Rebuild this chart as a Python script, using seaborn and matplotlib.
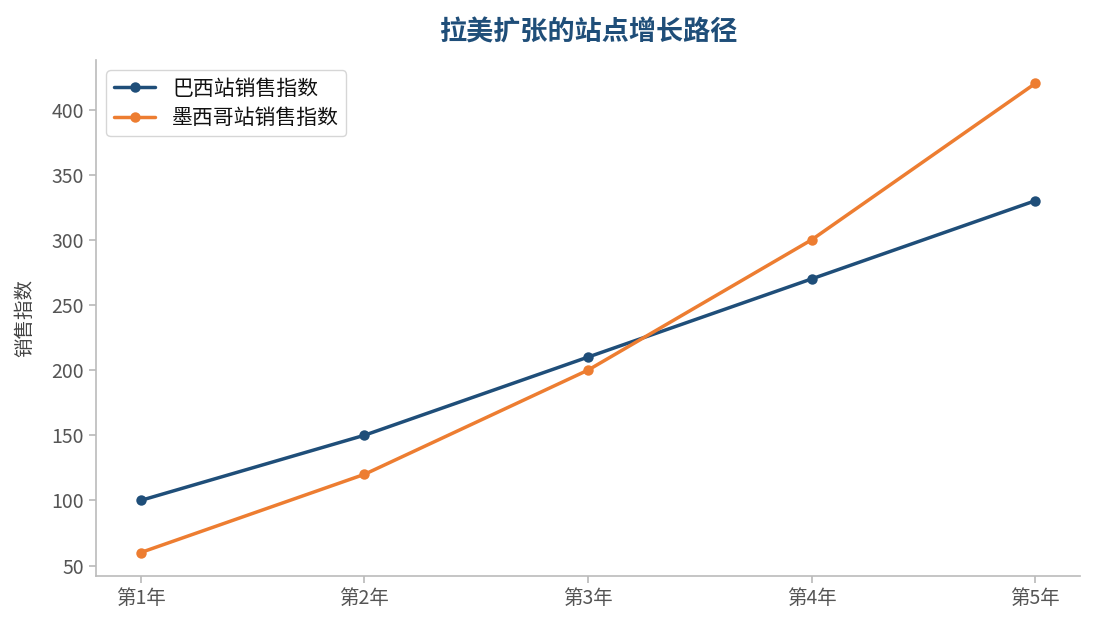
import matplotlib
matplotlib.use("Agg")
import matplotlib.pyplot as plt
import seaborn as sns
import pandas as pd

years = ["第1年", "第2年", "第3年", "第4年", "第5年"]
brazil = [100, 150, 210, 270, 330]
mexico = [60, 120, 200, 300, 420]
series_names = ["巴西站销售指数", "墨西哥站销售指数"]
colors = ["#1f4e79", "#ed7d31"]

sns.set_theme(style="ticks")
plt.rcParams['font.family'] = ['Noto Sans CJK SC', 'DejaVu Sans']

df = pd.DataFrame({
    "year": years * 2,
    "value": brazil + mexico,
    "series": [series_names[0]] * 5 + [series_names[1]] * 5,
})

fig = plt.figure(figsize=(10.95, 6.29), dpi=100)
ax = fig.add_axes([96/1095, 1 - 576/629, (1080-96)/1095, (576-60)/629])
sns.lineplot(data=df, x="year", y="value", hue="series", palette=colors,
             marker="o", markersize=7.5, markeredgewidth=0, linewidth=2.5, ax=ax, sort=False)

ax.set_title("拉美扩张的站点增长路径", fontsize=19.5, fontweight="bold", color="#1f4e79", pad=14)
ax.set_xlabel("")
ax.set_ylabel("销售指数", fontsize=14, color="#444444", labelpad=12)
ax.tick_params(axis="both", labelsize=14, colors="#555555", length=5, color="#bbbbbb")
for lab in ax.get_xticklabels() + ax.get_yticklabels():
    lab.set_color("#555555")
sns.despine(ax=ax)
for s in ["left", "bottom"]:
    ax.spines[s].set_color("#bbbbbb")
    ax.spines[s].set_linewidth(1.2)
ax.set_yticks([50, 100, 150, 200, 250, 300, 350, 400])
leg = ax.legend(loc="upper left", fontsize=15, frameon=True, title=None,
                borderpad=0.35, handlelength=2.0, labelspacing=0.35)
leg.get_frame().set_edgecolor("#cccccc")
for t in leg.get_texts():
    t.set_color("#111111")

fig.savefig("out.png", dpi=100)
